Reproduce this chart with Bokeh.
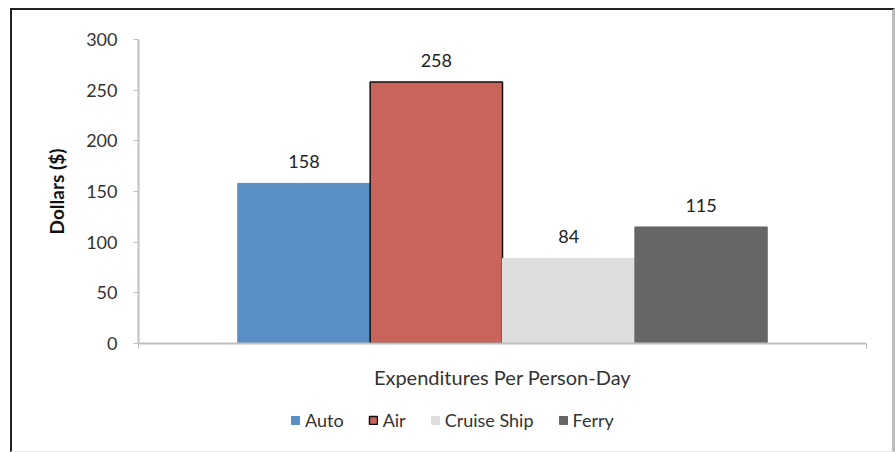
from bokeh.plotting import figure
from bokeh.models import (ColumnDataSource, Range1d, FixedTicker, Legend, LegendItem,
                          LabelSet)
from bokeh.layouts import column
from bokeh.core.properties import value
from bokeh.embed import file_html
from bokeh.resources import INLINE

# ---- data ----
series = ["Auto", "Air", "Cruise Ship", "Ferry"]
values = [158, 258, 84, 115]
colors = ["#5A8FC5", "#C9645A", "#DEDEDE", "#666666"]
outline = [None, "#111111", None, None]
category = "Expenditures Per Person-Day"
y_ticks = [0, 50, 100, 150, 200, 250, 300]

FONT = "Lato"
GAP = 1.5  # Excel-style gap width (fraction of bar width)

n = len(series)
bw = 1.0 / (n + GAP)
xs = [GAP * bw / 2 + (i + 0.5) * bw for i in range(n)]

p = figure(width=880, height=392, output_backend="svg", toolbar_location=None,
           x_range=Range1d(0, 1), y_range=Range1d(0, 300),
           min_border_left=126, min_border_right=26, min_border_top=29,
           min_border_bottom=59)
p.outline_line_color = None
p.xgrid.visible = False
p.ygrid.visible = False
p.background_fill_color = "white"
p.border_fill_color = "white"

sources = []
for i in range(n):
    src = ColumnDataSource(dict(x=[xs[i]], top=[values[i]], lab=[str(values[i])]))
    sources.append(src)
    p.vbar(x="x", top="top", width=bw, bottom=0, source=src,
           fill_color=colors[i],
           line_color=outline[i] if outline[i] else colors[i],
           line_width=1.5 if outline[i] else 1)
    lbl = LabelSet(x="x", y="top", text="lab", source=src, text_align="center",
                   text_baseline="bottom", y_offset=15, text_font=value(FONT),
                   text_font_size="18px", text_color="#222222")
    p.add_layout(lbl)

# y axis
ya = p.yaxis[0]
ya.ticker = FixedTicker(ticks=y_ticks)
ya.axis_line_color = "#BFBFBF"
ya.axis_line_width = 2
ya.major_tick_line_color = "#BFBFBF"
ya.major_tick_in = 0
ya.major_tick_out = 5
ya.minor_tick_line_color = None
ya.major_label_text_font = FONT
ya.major_label_text_font_size = "18px"
ya.major_label_text_color = "#333333"
ya.major_label_standoff = 16
ya.axis_label = "Dollars ($)"
ya.axis_label_text_font = FONT
ya.axis_label_text_font_style = "bold"
ya.axis_label_text_font_size = "19px"
ya.axis_label_text_color = "#111111"
ya.axis_label_standoff = 15

# x axis
xa = p.xaxis[0]
xa.ticker = FixedTicker(ticks=[0, 1])
xa.major_label_overrides = {0: "", 1: ""}
xa.axis_line_color = "#BFBFBF"
xa.axis_line_width = 2
xa.major_tick_line_color = "#BFBFBF"
xa.major_tick_in = 0
xa.major_tick_out = 5
xa.minor_tick_line_color = None
xa.major_label_text_font_size = "1px"
xa.axis_label = category
xa.axis_label_text_font = FONT
xa.axis_label_text_font_style = "normal"
xa.axis_label_text_font_size = "20px"
xa.axis_label_text_color = "#333333"
xa.axis_label_standoff = 16

# legend strip (frame aligned with the main plot's frame by the column)
lf = figure(width=880, height=49, output_backend="svg", toolbar_location=None,
            x_range=Range1d(0, 1), y_range=Range1d(0, 1),
            min_border_left=0, min_border_right=0, min_border_top=0,
            min_border_bottom=0)
lf.outline_line_color = None
lf.axis.visible = False
lf.grid.visible = False
items = []
for i in range(n):
    r = lf.vbar(x="x", top="top", width=bw, source=sources[i], fill_color=colors[i],
                line_color=outline[i] if outline[i] else colors[i],
                line_width=1.5 if outline[i] else 1, visible=False)
    items.append(LegendItem(label=series[i], renderers=[r]))
legend = Legend(items=items, orientation="horizontal", location=(152, 20),
                border_line_color=None, background_fill_alpha=0,
                inactive_fill_alpha=0,
                label_text_font=FONT, label_text_font_size="18px",
                label_text_color="#333333", glyph_width=10, glyph_height=10,
                label_standoff=5, spacing=24, padding=0, margin=0,
                label_height=18)
lf.add_layout(legend, "center")

layout = column(p, lf, spacing=0,
                styles={"border-left": "2px solid #222", "border-top": "2px solid #222",
                        "border-right": "3px solid #bbb",
                        "border-bottom": "1px solid #e6e6e6",
                        "margin-left": "10px", "margin-top": "8px"})

open("out.html", "w").write(file_html(layout, INLINE))
